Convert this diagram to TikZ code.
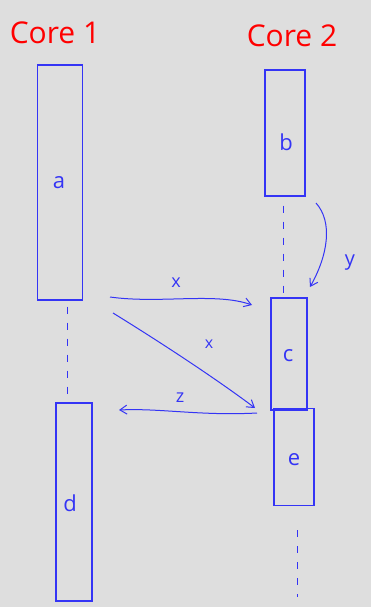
\documentclass[tikz,border=0pt]{standalone}
\usepackage{fontspec}
\setmainfont{Open Sans}
\usetikzlibrary{arrows.meta,calc}
\definecolor{pen}{RGB}{52,52,245}
\definecolor{ink}{RGB}{255,0,0}
\definecolor{paper}{RGB}{222,222,222}
\tikzset{
  block/.style={draw=pen, line width=1.4pt, rectangle, inner sep=0pt},
  tag/.style={text=pen, font=\fontsize{22}{24}\selectfont},
  title/.style={text=ink, font=\fontsize{30}{32}\selectfont},
  link/.style={draw=pen, line width=1pt, -{Straight Barb[length=7pt,width=9pt]}},
  gap/.style={draw=pen, line width=0.9pt, dash pattern=on 7pt off 9pt},
}
\begin{document}
\begin{tikzpicture}[x=1pt,y=-1pt]
  % canvas
  \fill[paper] (0,0) rectangle (371,607);
  \useasboundingbox (0,0) rectangle (371,607);

  % core headings
  \node[title] (core1) at (55,33) {Core 1};
  \node[title] (core2) at (292,36) {Core 2};

  % segments on core 1
  \node[block, minimum width=45pt, minimum height=235pt] (a) at (60,182.5) {};
  \node[block, minimum width=36pt, minimum height=198pt] (d) at (74,502) {};
  % segments on core 2
  \node[block, minimum width=40pt, minimum height=126pt] (b) at (285,133) {};
  \node[block, minimum width=36pt, minimum height=112pt] (c) at (289,354) {};
  \node[block, minimum width=40pt, minimum height=97pt] (e) at (294,457) {};

  % segment letters
  \node[tag] (la) at (59,183) {a};
  \node[tag] (lb) at (286,142) {b};
  \node[tag] (lc) at (288,356) {c};
  \node[tag] (le) at (294,460) {e};
  \node[tag] (ld) at (70,503) {d};

  % gaps between segments
  \draw[gap] ([xshift=7pt,yshift=-6pt]a.south) -- ([xshift=-7pt,yshift=4pt]d.north);
  \draw[gap] ([xshift=-2pt,yshift=-9pt]b.south) -- ([xshift=-6pt,yshift=4pt]c.north);
  \coordinate (tail) at (297,597);
  \draw[gap] ([xshift=3pt,yshift=-24pt]e.south) -- (tail);

  % transfers
  \coordinate (x1s) at (110,297);
  \coordinate (x1e) at (252,305);
  \draw[link] (x1s) .. controls (160,304) and (215,292) .. (x1e);
  \node[tag, font=\fontsize{18}{20}\selectfont] (lx1) at (176,283) {x};

  \coordinate (x2s) at (113,313);
  \coordinate (x2e) at (255,408);
  \draw[link] (x2s) .. controls (160,342) and (215,378) .. (x2e);
  \node[tag, font=\fontsize{16}{18}\selectfont] (lx2) at (209,344) {x};

  \coordinate (zs) at (257,413);
  \coordinate (ze) at (119,410);
  \draw[link] (zs) .. controls (200,416) and (160,408) .. (ze);
  \node[tag, font=\fontsize{18}{20}\selectfont] (lz) at (180,398) {z};

  \coordinate (ys) at (316,203);
  \coordinate (ye) at (310,287);
  \draw[link] (ys) .. controls (333,222) and (328,255) .. (ye);
  \node[tag, font=\fontsize{20}{22}\selectfont] (ly) at (350,263) {y};
\end{tikzpicture}
\end{document}
